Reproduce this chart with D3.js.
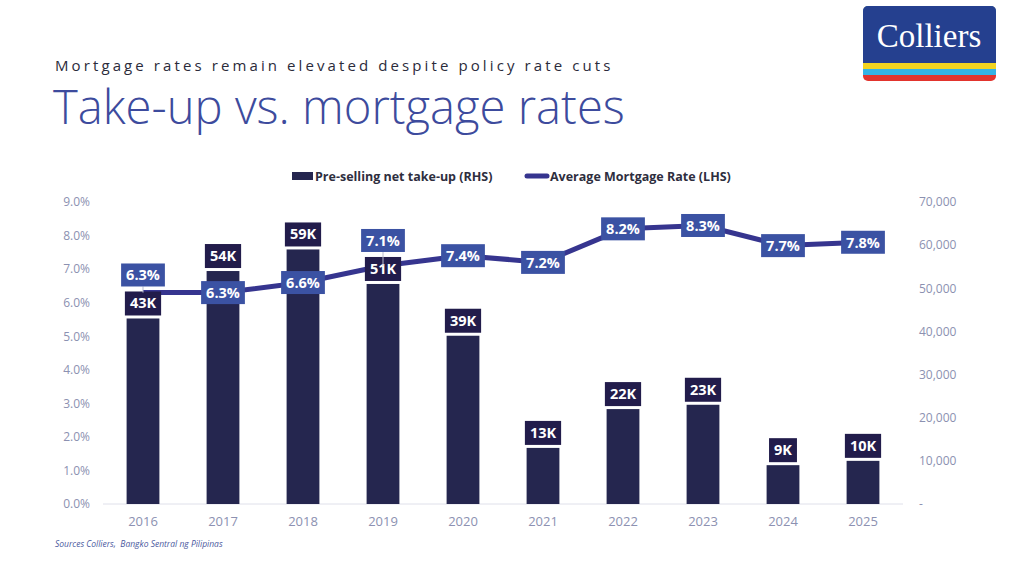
<!DOCTYPE html>
<html>
<head>
<meta charset="utf-8">
<script src="https://cdn.jsdelivr.net/npm/d3@7"></script>
<style>
  body { margin: 0; background: #fff; }
  svg { display: block; font-family: "Open Sans", "Noto Sans", sans-serif; }
</style>
</head>
<body>
<script>
// chart data
const years = ["2016","2017","2018","2019","2020","2021","2022","2023","2024","2025"];
const takeUp = [43000, 54000, 59000, 51000, 39000, 13000, 22000, 23000, 9000, 10000];
const takeUpLabels = ["43K","54K","59K","51K","39K","13K","22K","23K","9K","10K"];
const mortgageRate = [6.3, 6.3, 6.6, 7.1, 7.4, 7.2, 8.2, 8.3, 7.7, 7.8];
const leftTicks = [0,1,2,3,4,5,6,7,8,9];
const rightTicks = [0,10000,20000,30000,40000,50000,60000,70000];

const W = 1024, H = 576;
const svg = d3.select("body").append("svg")
    .attr("width", W)
    .attr("height", H);

// header
svg.append("text")
    .attr("x", 55).attr("y", 71)
    .attr("font-size", 15)
    .attr("letter-spacing", 3.1)
    .attr("fill", "#2b2b3b")
    .text("Mortgage rates remain elevated despite policy rate cuts");

svg.append("text")
    .attr("x", 53).attr("y", 124)
    .attr("font-size", 47.2)
    .attr("font-weight", 300)
    .attr("fill", "#3d4b9d")
    .text("Take-up vs. mortgage rates");

// logo
const logo = svg.append("g");
logo.append("rect").attr("x", 863).attr("y", 6).attr("width", 133).attr("height", 75).attr("rx", 5).attr("fill", "#e2342d");
logo.append("rect").attr("x", 863).attr("y", 6).attr("width", 133).attr("height", 69).attr("rx", 5).attr("fill", "#34b3e4");
logo.append("rect").attr("x", 863).attr("y", 68).attr("width", 133).attr("height", 7).attr("fill", "#34b3e4");
logo.append("rect").attr("x", 863).attr("y", 63).attr("width", 133).attr("height", 6).attr("fill", "#f3d420");
logo.append("path")
    .attr("d", "M863,63 V11 a5,5 0 0 1 5,-5 H991 a5,5 0 0 1 5,5 V63 Z")
    .attr("fill", "#25408f");
logo.append("text")
    .attr("x", 929).attr("y", 47)
    .attr("text-anchor", "middle")
    .attr("font-family", "'Liberation Serif', 'DejaVu Serif', serif")
    .attr("font-size", 33)
    .attr("fill", "#fff")
    .text("Colliers");

// scales
const x = d3.scaleBand()
    .domain(years)
    .range([103, 903])
    .paddingInner(0.59)
    .paddingOuter(0.295);

const yL = d3.scaleLinear().domain([0, 9]).range([504, 202]);
const yR = d3.scaleLinear().domain([0, 70000]).range([504, 202]);

const axisColor = "#8c91b1";

// left axis
const gL = svg.append("g")
    .attr("transform", "translate(90,0)")
    .call(d3.axisLeft(yL).tickValues(leftTicks).tickSize(0).tickPadding(0)
        .tickFormat(d => d3.format(".1f")(d) + "%"));
gL.select(".domain").remove();
gL.selectAll("text").attr("font-size", 12).attr("fill", axisColor).attr("font-family", "Open Sans");

// right axis
const gR = svg.append("g")
    .attr("transform", "translate(919,0)")
    .call(d3.axisRight(yR).tickValues(rightTicks).tickSize(0).tickPadding(0)
        .tickFormat(d => d === 0 ? "-" : d3.format(",")(d)));
gR.select(".domain").remove();
gR.selectAll("text").attr("font-size", 12).attr("fill", axisColor).attr("font-family", "Open Sans");

// baseline
svg.append("line")
    .attr("x1", 103).attr("x2", 903)
    .attr("y1", yL(0)).attr("y2", yL(0))
    .attr("stroke", "#dfe0ea").attr("stroke-width", 1);

// bottom axis
const gX = svg.append("g")
    .attr("transform", `translate(0,${yL(0)})`)
    .call(d3.axisBottom(x).tickSize(0).tickPadding(13));
gX.select(".domain").remove();
gX.selectAll("text").attr("font-size", 13).attr("fill", axisColor).attr("font-family", "Open Sans");

// bars
svg.append("g").selectAll("rect")
    .data(years)
    .join("rect")
    .attr("x", d => x(d))
    .attr("y", (d, i) => yR(takeUp[i]))
    .attr("width", x.bandwidth())
    .attr("height", (d, i) => yR(0) - yR(takeUp[i]))
    .attr("fill", "#25264f");

// line
const line = d3.line()
    .x((d, i) => x(years[i]) + x.bandwidth() / 2)
    .y(d => yL(d));

svg.append("path")
    .datum(mortgageRate)
    .attr("d", line)
    .attr("fill", "none")
    .attr("stroke", "#36358f")
    .attr("stroke-width", 5)
    .attr("stroke-linejoin", "round");

// take-up labels (just above the bar)
const kBoxes = [];
const kG = svg.append("g");
years.forEach(function (yr, i) {
    const cx = x(yr) + x.bandwidth() / 2;
    const bottom = yR(takeUp[i]) - 3;
    const g = kG.append("g");
    const rect = g.append("rect").attr("fill", "#221c4b");
    const t = g.append("text")
        .attr("x", cx).attr("y", bottom - 7)
        .attr("text-anchor", "middle")
        .attr("font-size", 14.5).attr("font-weight", 700)
        .attr("fill", "#fff")
        .text(takeUpLabels[i]);
    const w = t.node().getComputedTextLength() + 10;
    rect.attr("x", cx - w / 2).attr("y", bottom - 24).attr("width", w).attr("height", 24);
    kBoxes.push({top: bottom - 24, bottom: bottom});
});

// rate labels, centred on the point unless that hits the take-up label
const rG = svg.append("g");
mortgageRate.forEach(function (r, i) {
    const cx = x(years[i]) + x.bandwidth() / 2;
    const py = yL(r);
    const h = 23;
    let top = py - h / 2;
    const k = kBoxes[i];
    let moved = false;
    if (top < k.bottom && top + h > k.top) {
        top = Math.min(k.top, py) - 5 - h;
        moved = true;
    }
    const g = rG.append("g");
    if (moved) {
        g.append("line")
            .attr("x1", cx).attr("x2", cx)
            .attr("y1", top + h).attr("y2", py)
            .attr("stroke", "#b9bccf").attr("stroke-width", 1);
    }
    const rect = g.append("rect").attr("fill", "#3b52a3");
    const t = g.append("text")
        .attr("x", cx).attr("y", top + 17)
        .attr("text-anchor", "middle")
        .attr("font-size", 14.5).attr("font-weight", 700)
        .attr("fill", "#fff")
        .text(d3.format(".1f")(r) + "%");
    const w = t.node().getComputedTextLength() + 10;
    rect.attr("x", cx - w / 2).attr("y", top).attr("width", w).attr("height", h);
});

// legend
const leg = svg.append("g").attr("font-size", 12.5).attr("font-weight", 700).attr("fill", "#2e2e3e");
leg.append("rect").attr("x", 292).attr("y", 172).attr("width", 21).attr("height", 8).attr("fill", "#25264f");
leg.append("text").attr("x", 315).attr("y", 180.5).text("Pre-selling net take-up (RHS)");
leg.append("line").attr("x1", 527).attr("x2", 547).attr("y1", 176).attr("y2", 176)
    .attr("stroke", "#36358f").attr("stroke-width", 5).attr("stroke-linecap", "round");
leg.append("text").attr("x", 550).attr("y", 180.5).text("Average Mortgage Rate (LHS)");

// source
svg.append("text")
    .attr("x", 55).attr("y", 547)
    .attr("font-size", 8.5)
    .attr("font-style", "italic")
    .attr("fill", "#4b599e")
    .style("white-space", "pre")
    .text("Sources Colliers,  Bangko Sentral ng Pilipinas");
</script>
</body>
</html>
